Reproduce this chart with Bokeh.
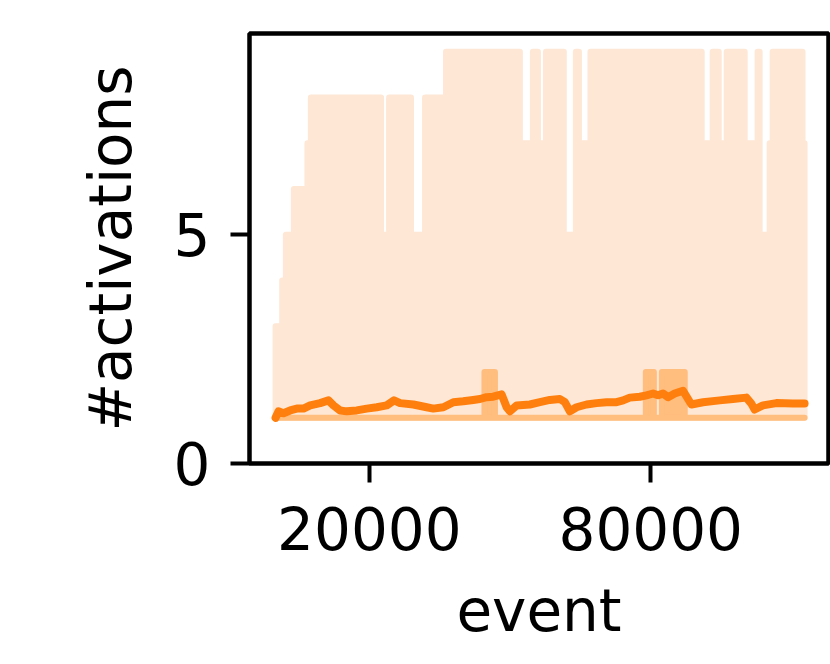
from bokeh.plotting import figure
from bokeh.models import Range1d, FixedTicker
from bokeh.embed import file_html
from bokeh.resources import INLINE

# ---- data ----
# max over runs (light band upper edge): step start events and levels
max_breaks = [0, 1406, 2194, 3898, 6795, 7519, 22490, 24200, 28880, 31870, 36340,
              52100, 54870, 55940, 57650, 61460, 64030, 64690, 67150, 90860, 93200,
              94490, 96200, 100030, 102780, 103220, 105350, 105990, 112360]
max_levels = [3, 4, 5, 6, 7, 8, 5, 8, 5, 8, 9,
              7, 9, 7, 9, 5, 9, 7, 9, 7, 9,
              7, 9, 7, 9, 5, 7, 9, 7]
min_level = 1
end_event = 112800

# inner band (darker) upper edge
mid_breaks = [0, 44540, 46770, 78950, 80660, 82370, 87240]
mid_levels = [1, 2, 1, 2, 1, 2, 1]

# mean number of activations
mean_x = [0, 620, 1690, 3110, 4530, 5950, 7370, 9500, 11270, 12340, 13760, 15180,
          17310, 19440, 21570, 23700, 25260, 26540, 29380, 32220, 33640, 35770,
          37900, 40020, 42150, 43580, 45000, 46410, 48200, 49270, 49970, 51400,
          54230, 56360, 58490, 60620, 61690, 62750, 64170, 66300, 68440, 70570,
          72700, 74110, 75530, 77660, 79090, 80490, 81560, 82620, 83690, 85110,
          86880, 87950, 88670, 91140, 94700, 97530, 100380, 101450, 102150,
          103920, 106780, 110310, 112800]
mean_y = [1.00, 1.14, 1.10, 1.16, 1.20, 1.20, 1.27, 1.32, 1.38, 1.27, 1.16, 1.14,
          1.16, 1.20, 1.23, 1.27, 1.38, 1.32, 1.29, 1.23, 1.20, 1.23,
          1.34, 1.36, 1.39, 1.41, 1.45, 1.46, 1.51, 1.23, 1.14, 1.27,
          1.29, 1.34, 1.39, 1.41, 1.34, 1.14, 1.23, 1.29, 1.32, 1.34,
          1.34, 1.38, 1.44, 1.46, 1.49, 1.53, 1.49, 1.53, 1.45, 1.53,
          1.59, 1.41, 1.29, 1.34, 1.38, 1.41, 1.44, 1.31, 1.18,
          1.27, 1.32, 1.31, 1.31]

x_ticks = [20000, 80000]
y_ticks = [0, 5]

ORANGE = "#ff7f0e"
LIGHT = "#fee8d5"
MID = "#ffbd7e"
FONT = "DejaVu Sans"
FS = "58px"


def step_band(breaks, levels, end, low):
    xs, ys = [], []
    for i, lv in enumerate(levels):
        x0 = breaks[i]
        x1 = breaks[i + 1] if i + 1 < len(breaks) else end
        xs += [x0, x1]
        ys += [lv, lv]
    xs += [end, breaks[0]]
    ys += [low, low]
    return xs, ys


p = figure(frame_width=579, frame_height=430, output_backend="svg",
           toolbar_location=None, x_range=Range1d(-5560, 117900),
           y_range=Range1d(0, 9.4),
           min_border_left=249, min_border_top=33, min_border_right=2,
           min_border_bottom=185)

bx, by = step_band(max_breaks, max_levels, end_event, min_level)
p.patch(bx, by, fill_color=LIGHT, line_color=LIGHT, line_width=6,
        line_join="round")
mx, my = step_band(mid_breaks, mid_levels, end_event, min_level)
p.patch(mx, my, fill_color=MID, line_color=MID, line_width=6,
        line_join="round")
p.line(mean_x, mean_y, line_color=ORANGE, line_width=8, line_join="round",
       line_cap="round")

p.xgrid.visible = False
p.ygrid.visible = False
p.outline_line_color = "black"
p.outline_line_width = 4.5
p.outline_line_alpha = 1.0
p.background_fill_color = "white"
p.border_fill_color = "white"

p.xaxis.ticker = FixedTicker(ticks=x_ticks)
p.yaxis.ticker = FixedTicker(ticks=y_ticks)
p.xaxis.axis_label = "event"
p.yaxis.axis_label = "#activations"

for ax in (p.xaxis[0], p.yaxis[0]):
    ax.axis_line_color = None
    ax.major_tick_line_color = "black"
    ax.major_tick_line_width = 4
    ax.major_tick_out = 19
    ax.major_tick_in = 0
    ax.minor_tick_line_color = None
    ax.major_label_text_font = FONT
    ax.major_label_text_font_size = FS
    ax.major_label_text_color = "black"
    ax.axis_label_text_font = FONT
    ax.axis_label_text_font_size = FS
    ax.axis_label_text_font_style = "normal"
    ax.axis_label_text_color = "black"

p.xaxis.major_label_standoff = 24
p.yaxis.major_label_standoff = 20
p.xaxis.axis_label_standoff = 24
p.yaxis.axis_label_standoff = 26

open("out.html", "w").write(file_html(p, INLINE))
